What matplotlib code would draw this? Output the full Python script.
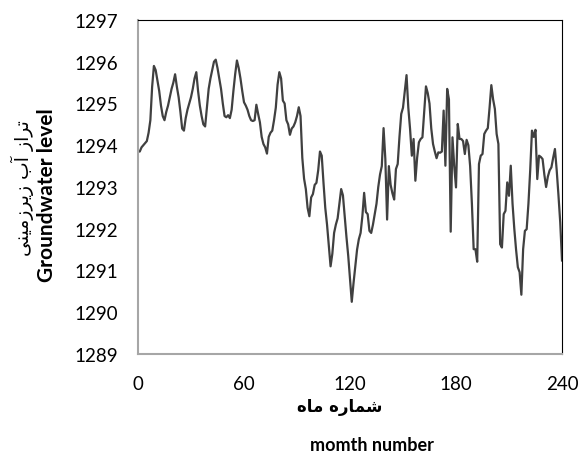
import numpy as np
import matplotlib
matplotlib.use('Agg')
import matplotlib.pyplot as plt

# groundwater level, one value per month (0..240)
level = [
    1293.85, 1293.85, 1293.95, 1294.00, 1294.05, 1294.10, 1294.30, 1294.60, 1295.40, 1295.90,
    1295.80, 1295.55, 1295.30, 1294.95, 1294.70, 1294.60, 1294.80, 1294.95, 1295.15, 1295.35,
    1295.50, 1295.70, 1295.40, 1295.15, 1294.80, 1294.40, 1294.35, 1294.65, 1294.85, 1295.00,
    1295.15, 1295.35, 1295.60, 1295.75, 1295.30, 1294.95, 1294.70, 1294.50, 1294.45, 1294.90,
    1295.35, 1295.60, 1295.80, 1296.00, 1296.05, 1295.85, 1295.60, 1295.35, 1295.00, 1294.70,
    1294.67, 1294.72, 1294.65, 1294.85, 1295.30, 1295.70, 1296.03, 1295.85, 1295.60, 1295.30,
    1295.03, 1294.95, 1294.85, 1294.70, 1294.60, 1294.58, 1294.60, 1294.97, 1294.75, 1294.55,
    1294.20, 1294.03, 1293.95, 1293.80, 1294.20, 1294.30, 1294.35, 1294.60, 1294.90, 1295.45,
    1295.75, 1295.60, 1295.07, 1295.00, 1294.60, 1294.50, 1294.25, 1294.40, 1294.45, 1294.55,
    1294.70, 1294.91, 1294.70, 1293.70, 1293.20, 1292.95, 1292.50, 1292.30, 1292.75, 1292.83,
    1293.05, 1293.10, 1293.40, 1293.85, 1293.75, 1293.10, 1292.50, 1292.10, 1291.60, 1291.10,
    1291.40, 1291.90, 1292.10, 1292.25, 1292.60, 1292.95, 1292.80, 1292.30, 1291.80, 1291.35,
    1290.80, 1290.25, 1290.70, 1291.10, 1291.50, 1291.75, 1291.90, 1292.30, 1292.86, 1292.40,
    1292.35, 1291.95, 1291.90, 1292.10, 1292.35, 1292.60, 1293.00, 1293.30, 1293.50, 1294.41,
    1293.67, 1292.22, 1293.50, 1293.05, 1292.85, 1292.70, 1293.43, 1293.55, 1294.20, 1294.75,
    1294.90, 1295.30, 1295.68, 1294.90, 1294.39, 1293.75, 1294.15, 1293.15, 1293.70, 1294.07,
    1294.15, 1294.19, 1294.80, 1295.41, 1295.25, 1295.00, 1294.40, 1294.03, 1293.85, 1293.69,
    1293.83, 1293.82, 1293.85, 1294.83, 1293.51, 1295.35, 1295.10, 1291.93, 1294.19, 1293.50,
    1292.99, 1294.51, 1294.15, 1294.15, 1294.10, 1293.79, 1294.13, 1294.00, 1293.50, 1292.60,
    1291.51, 1291.51, 1291.21, 1293.55, 1293.75, 1293.79, 1294.27, 1294.35, 1294.41, 1294.90,
    1295.44, 1295.10, 1294.87, 1294.27, 1294.03, 1291.63, 1291.55, 1292.35, 1292.43, 1293.11,
    1292.79, 1293.51, 1292.60, 1292.00, 1291.50, 1291.08, 1290.96, 1290.42, 1291.51, 1291.95,
    1291.99, 1292.60, 1293.40, 1294.35, 1294.20, 1294.37, 1293.19, 1293.75, 1293.72, 1293.67,
    1293.30, 1293.00, 1293.25, 1293.40, 1293.47, 1293.70, 1293.91, 1293.40, 1292.80, 1292.15,
    1291.24,
]
months = np.arange(len(level))

x_ticks = [0, 60, 120, 180, 240]
y_ticks = list(range(1289, 1298))

# Persian labels in presentation forms, visual (left-to-right) order
y_label_fa = '\ufef0\ufee8\ufef4\ufee3\ufeaf\ufeae\ufef3\ufeaf \ufe8f\ufe81 \ufeaf\ufe8d\ufeae\ufe97'
y_label_en = 'Groundwater level'
x_label_fa = '\ufee9\ufe8e\ufee3 \ufee9\ufead\ufe8e\ufee4\ufeb7'
x_label_en = 'momth number'

plt.rcParams['font.family'] = ['Lato', 'DejaVu Sans']

fig = plt.figure(figsize=(5.81, 4.56), dpi=100)
ax = fig.add_axes([138 / 581, 1 - 355 / 456, 424 / 581, 334 / 456])

ax.plot(months, level, color='#404040', linewidth=1.6)

ax.set_xlim(0, 240)
ax.set_ylim(1289, 1297)
ax.set_xticks(x_ticks)
ax.set_yticks(y_ticks)
ax.tick_params(length=0, labelsize=13.5)
ax.tick_params(axis='y', pad=14)
ax.tick_params(axis='x', pad=15)

for side in ['top', 'right']:
    ax.spines[side].set_color('black')
    ax.spines[side].set_linewidth(0.8)
for side in ['left', 'bottom']:
    ax.spines[side].set_color('#a6a6a6')
    ax.spines[side].set_linewidth(1.5)

fig.text(22 / 581, 1 - 188 / 456, y_label_fa, rotation=90, ha='center', va='center',
         fontsize=13.5, family=['DejaVu Sans'])
fig.text(47 / 581, 1 - 195 / 456, y_label_en, rotation=90, ha='center', va='center',
         fontsize=15, fontweight='bold')
fig.text(340 / 581, 1 - 407 / 456, x_label_fa, ha='center', va='center',
         fontsize=12, fontweight='bold', family=['DejaVu Sans'])
fig.text(372 / 581, 1 - 446 / 456, x_label_en, ha='center', va='center',
         fontsize=13, fontweight='bold')

fig.savefig('out.png', dpi=100)
